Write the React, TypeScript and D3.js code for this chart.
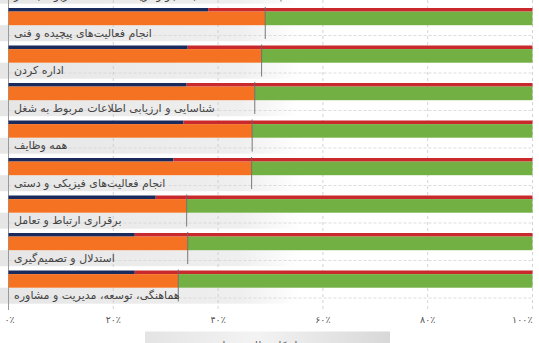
import React from "react";
import * as d3 from "d3";

const categories = [
  "جستجو و دریافت اطلاعات مربوط به کار",
  "انجام فعالیت‌های پیچیده و فنی",
  "اداره کردن",
  "شناسایی و ارزیابی اطلاعات مربوط به شغل",
  "همه وظایف",
  "انجام فعالیت‌های فیزیکی و دستی",
  "برقراری ارتباط و تعامل",
  "استدلال و تصمیم‌گیری",
  "هماهنگی، توسعه، مدیریت و مشاوره",
];
const topShare = [40, 38.1, 34.2, 34, 33.4, 31.5, 28.1, 24.1, 24.1];
const mainShare = [52, 49, 48.3, 47, 46.5, 46.4, 34.0, 34.2, 32.4];
const ticks = [0, 20, 40, 60, 80, 100];
const tickLabels = ["۰٪", "۲۰٪", "۴۰٪", "۶۰٪", "۸۰٪", "۱۰۰٪"];
const axisTitle = "سهم از کل وظایف شغلی";

const W = 539;
const H = 343;

export default function App() {
  const x = d3.scaleLinear().domain([0, 100]).range([8.5, 532.5]);
  const y = d3
    .scaleBand<string>()
    .domain(categories)
    .range([-29.5, -29.5 + categories.length * 37.5])
    .paddingInner(0)
    .paddingOuter(0);
  const font = "'DejaVu Sans', sans-serif";
  return (
    <svg
      width={W}
      height={H}
      style={{ position: "absolute", left: 0, top: 0, background: "#fff" }}
    >
      <defs>
        <linearGradient id="bandGrad" x1="0" x2="1" y1="0" y2="0">
          <stop offset="0%" stopColor="#e6e6e6" />
          <stop offset="80%" stopColor="#efefef" />
          <stop offset="100%" stopColor="#ffffff" />
        </linearGradient>
        <linearGradient id="boxGrad" x1="0" x2="1" y1="0" y2="0">
          <stop offset="0%" stopColor="#e4e4e4" />
          <stop offset="45%" stopColor="#f3f3f3" />
          <stop offset="100%" stopColor="#d8d8d8" />
        </linearGradient>
      </defs>
      {categories.map((c) => (
        <rect
          key={"band" + c}
          x={0}
          y={(y(c) as number) + 17.2}
          width={300}
          height={16}
          fill="url(#bandGrad)"
        />
      ))}
      {categories.map((c) => (
        <line
          key={"hg" + c}
          x1={x(0)}
          x2={x(100)}
          y1={(y(c) as number) + 27.5}
          y2={(y(c) as number) + 27.5}
          stroke="#d4d4d4"
          strokeDasharray="3,2"
          strokeWidth={0.8}
        />
      ))}
      {ticks.slice(1).map((t) => (
        <line
          key={"vg" + t}
          x1={x(t)}
          x2={x(t)}
          y1={0}
          y2={310}
          stroke="#c8c8c8"
          strokeDasharray="3,3"
          strokeWidth={0.8}
        />
      ))}
      <line x1={x(0)} x2={x(0)} y1={0} y2={310} stroke="#9a9a9a" strokeWidth={1} />
      {categories.map((c, i) => {
        const t = y(c) as number;
        return (
          <g key={"bar" + c}>
            <rect x={x(0)} y={t} width={x(topShare[i]) - x(0)} height={3.6} fill="#1b2a5c" />
            <rect x={x(topShare[i])} y={t} width={x(100) - x(topShare[i])} height={3.6} fill="#c9282d" />
            <rect x={x(0)} y={t + 3.6} width={x(mainShare[i]) - x(0)} height={13.6} fill="#f47221" />
            <rect x={x(mainShare[i])} y={t + 3.6} width={x(100) - x(mainShare[i])} height={13.6} fill="#72b043" />
            <line
              x1={x(mainShare[i])}
              x2={x(mainShare[i])}
              y1={t - 1}
              y2={t + 31}
              stroke="#6a6a6a"
              strokeWidth={0.9}
            />
            <text
              x={14}
              y={t + 28.5}
              fontFamily={font}
              fontSize={11}
              fill="#444"
              direction="rtl"
              textAnchor="end"
            >
              {c}
            </text>
          </g>
        );
      })}
      {ticks.map((t, i) => (
        <text
          key={"tl" + t}
          x={x(t)}
          y={323}
          fontFamily={font}
          fontSize={9.5}
          fill="#555"
          textAnchor={i === 0 ? "start" : i === ticks.length - 1 ? "end" : "middle"}
          dx={i === 0 ? -4 : 0}
        >
          {tickLabels[i]}
        </text>
      ))}
      <rect x={145} y={331.5} width={245} height={20} fill="url(#boxGrad)" />
      <text
        x={267}
        y={349}
        fontFamily={font}
        fontSize={10}
        fill="#555"
        textAnchor="middle"
        direction="rtl"
      >
        {axisTitle}
      </text>
    </svg>
  );
}
